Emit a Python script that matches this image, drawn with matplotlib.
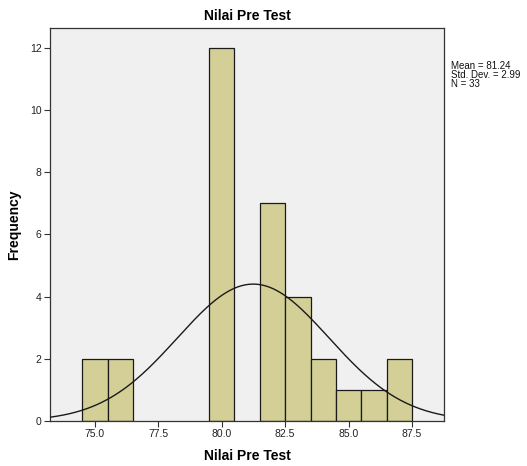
import numpy as np
import matplotlib
matplotlib.use("Agg")
import matplotlib.pyplot as plt

# histogram bins (centre of each 1-point bin) and their counts
bin_centres = [75, 76, 80, 82, 83, 84, 85, 86, 87]
counts = [2, 2, 12, 7, 4, 2, 1, 1, 2]
bin_width = 1.0

mean = 81.24
std_dev = 2.99
n = 33

x_ticks = [75.0, 77.5, 80.0, 82.5, 85.0, 87.5]
y_ticks = [0, 2, 4, 6, 8, 10, 12]

plt.rcParams["font.family"] = ["Liberation Sans", "DejaVu Sans"]

fig = plt.figure(figsize=(5.27, 4.66), dpi=100)
ax = fig.add_axes([50 / 527, 1 - 421 / 466, 394 / 527, 393 / 466])
ax.set_facecolor("#f0f0f0")

ax.bar(bin_centres, counts, width=bin_width, color="#d3cf97",
       edgecolor="#1a1a1a", linewidth=0.9, zorder=2)

xs = np.linspace(73.2, 88.8, 400)
ys = n * bin_width / (std_dev * np.sqrt(2 * np.pi)) * np.exp(-0.5 * ((xs - mean) / std_dev) ** 2)
ax.plot(xs, ys, color="#1a1a1a", linewidth=1.0, zorder=3)

ax.set_xlim(73.23, 88.76)
ax.set_ylim(0, 12.64)
ax.set_xticks(x_ticks)
ax.set_xticklabels([f"{t:.1f}" for t in x_ticks])
ax.set_yticks(y_ticks)
ax.tick_params(labelsize=7.5, length=4, width=0.8, color="#333333", labelcolor="#222222", pad=2)

for s in ax.spines.values():
    s.set_color("#333333")
    s.set_linewidth(0.9)

ax.set_title("Nilai Pre Test", fontsize=10, fontweight="bold", pad=6)
ax.set_xlabel("Nilai Pre Test", fontsize=10, fontweight="bold", labelpad=7)
ax.set_ylabel("Frequency", fontsize=10, fontweight="bold", labelpad=6)

fig.text(451 / 527, 1 - 61 / 466,
         f"Mean = {mean:.2f}\nStd. Dev. = {std_dev:.2f}\nN = {n}",
         fontsize=7, va="top", ha="left", linespacing=0.9, color="#111111")

fig.savefig("out.png", dpi=100, facecolor="white")
